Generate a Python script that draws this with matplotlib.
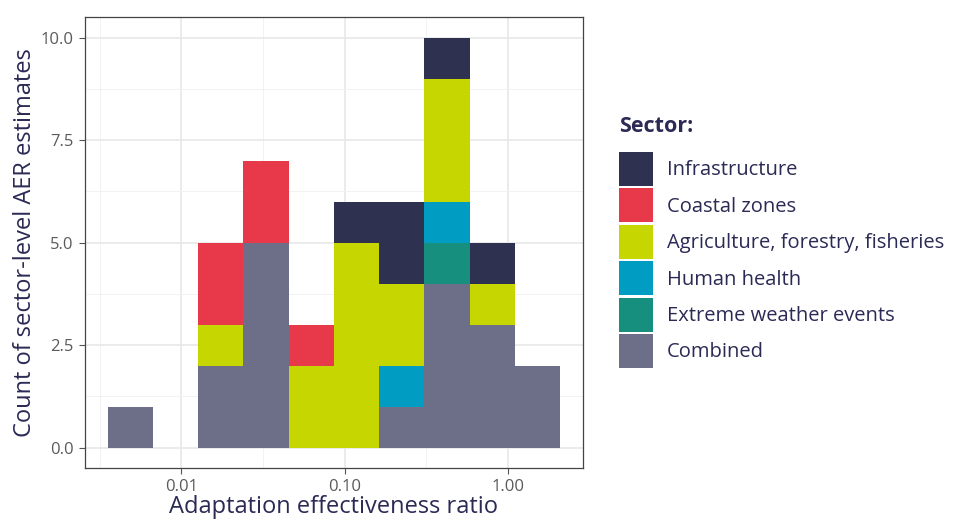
import numpy as np
import matplotlib
matplotlib.use("Agg")
import matplotlib.pyplot as plt
from matplotlib.patches import Patch
from matplotlib.ticker import FixedLocator, NullFormatter

plt.rcParams['font.family'] = ['Open Sans', 'DejaVu Sans']

# histogram bins on log10(AER)
bin_edges_log10 = [-2.4525, -2.1751, -1.8977, -1.6203, -1.3429, -1.0655,
                   -0.7881, -0.5107, -0.2333, 0.0441, 0.3215]

# counts per bin for each sector, stacked bottom -> top
sectors = ['Combined', 'Extreme weather events', 'Human health',
           'Agriculture, forestry, fisheries', 'Coastal zones', 'Infrastructure']
combined       = [1, 0, 2, 5, 0, 0, 1, 4, 3, 2]
extreme        = [0, 0, 0, 0, 0, 0, 0, 1, 0, 0]
human_health   = [0, 0, 0, 0, 0, 0, 1, 1, 0, 0]
agriculture    = [0, 0, 1, 0, 2, 5, 2, 3, 1, 0]
coastal        = [0, 0, 2, 2, 1, 0, 0, 0, 0, 0]
infrastructure = [0, 0, 0, 0, 0, 1, 2, 1, 1, 0]

colors = {
    'Infrastructure': '#2e3150',
    'Coastal zones': '#e8394a',
    'Agriculture, forestry, fisheries': '#c5d600',
    'Human health': '#009cc1',
    'Extreme weather events': '#178f7e',
    'Combined': '#6d6e87',
}

x_ticks = [0.01, 0.1, 1.0]
x_ticklabels = ['0.01', '0.10', '1.00']
y_ticks = [0.0, 2.5, 5.0, 7.5, 10.0]
y_ticklabels = ['0.0', '2.5', '5.0', '7.5', '10.0']

navy = '#2b2a55'
tick_col = '#5a5a5a'

fig = plt.figure(figsize=(9.65, 5.23), dpi=100)
ax = fig.add_axes([0.088, 0.105, 0.516, 0.8625])

edges = 10 ** np.array(bin_edges_log10)
left = edges[:-1]
width = edges[1:] - edges[:-1]

counts = [combined, extreme, human_health, agriculture, coastal, infrastructure]
bottom = np.zeros(len(left))
for name, c in zip(sectors, counts):
    c = np.array(c, dtype=float)
    ax.bar(left, c, width=width, bottom=bottom, align='edge',
           color=colors[name], linewidth=0, zorder=2)
    bottom += c

ax.set_xscale('log')
span = bin_edges_log10[-1] - bin_edges_log10[0]
ax.set_xlim(10 ** (bin_edges_log10[0] - 0.05 * span),
            10 ** (bin_edges_log10[-1] + 0.05 * span))
ax.set_ylim(-0.5, 10.5)

ax.xaxis.set_major_locator(FixedLocator(x_ticks))
ax.set_xticklabels(x_ticklabels)
ax.xaxis.set_minor_locator(FixedLocator([10 ** -2.5, 10 ** -1.5, 10 ** -0.5]))
ax.xaxis.set_minor_formatter(NullFormatter())
ax.set_yticks(y_ticks)
ax.set_yticklabels(y_ticklabels)
ax.yaxis.set_minor_locator(FixedLocator([1.25, 3.75, 6.25, 8.75]))

ax.grid(which='major', color='#e6e6e6', linewidth=1.1, zorder=0)
ax.grid(which='minor', color='#f0f0f0', linewidth=0.6, zorder=0)
ax.set_axisbelow(True)
ax.tick_params(which='minor', length=0)
ax.tick_params(which='major', length=4, width=0.8, color='#555555',
               labelsize=12, labelcolor=tick_col, pad=4)
for s in ax.spines.values():
    s.set_color('#444444')
    s.set_linewidth(0.9)

ax.set_xlabel('Adaptation effectiveness ratio', fontsize=17, color=navy, labelpad=0)
ax.set_ylabel('Count of sector-level AER estimates', fontsize=17, color=navy, labelpad=3)

# legend: title drawn separately so it sits a bit higher above the keys
legend_order = ['Infrastructure', 'Coastal zones', 'Agriculture, forestry, fisheries',
                'Human health', 'Extreme weather events', 'Combined']
handles = [Patch(facecolor=colors[n], edgecolor='none') for n in legend_order]
fig.text(0.641, 1 - 126 / 523, 'Sector:', fontsize=15.5, fontweight='bold',
         color=navy, ha='left', va='center')
leg = fig.legend(handles, legend_order, loc='upper left',
                 bbox_to_anchor=(0.641, 1 - 152 / 523), frameon=False,
                 fontsize=14.5, handlelength=1.69, handleheight=2.22,
                 labelspacing=0.12, handletextpad=0.7, borderaxespad=0,
                 borderpad=0)
for t in leg.get_texts():
    t.set_color(navy)

fig.savefig('out.png', dpi=100)
